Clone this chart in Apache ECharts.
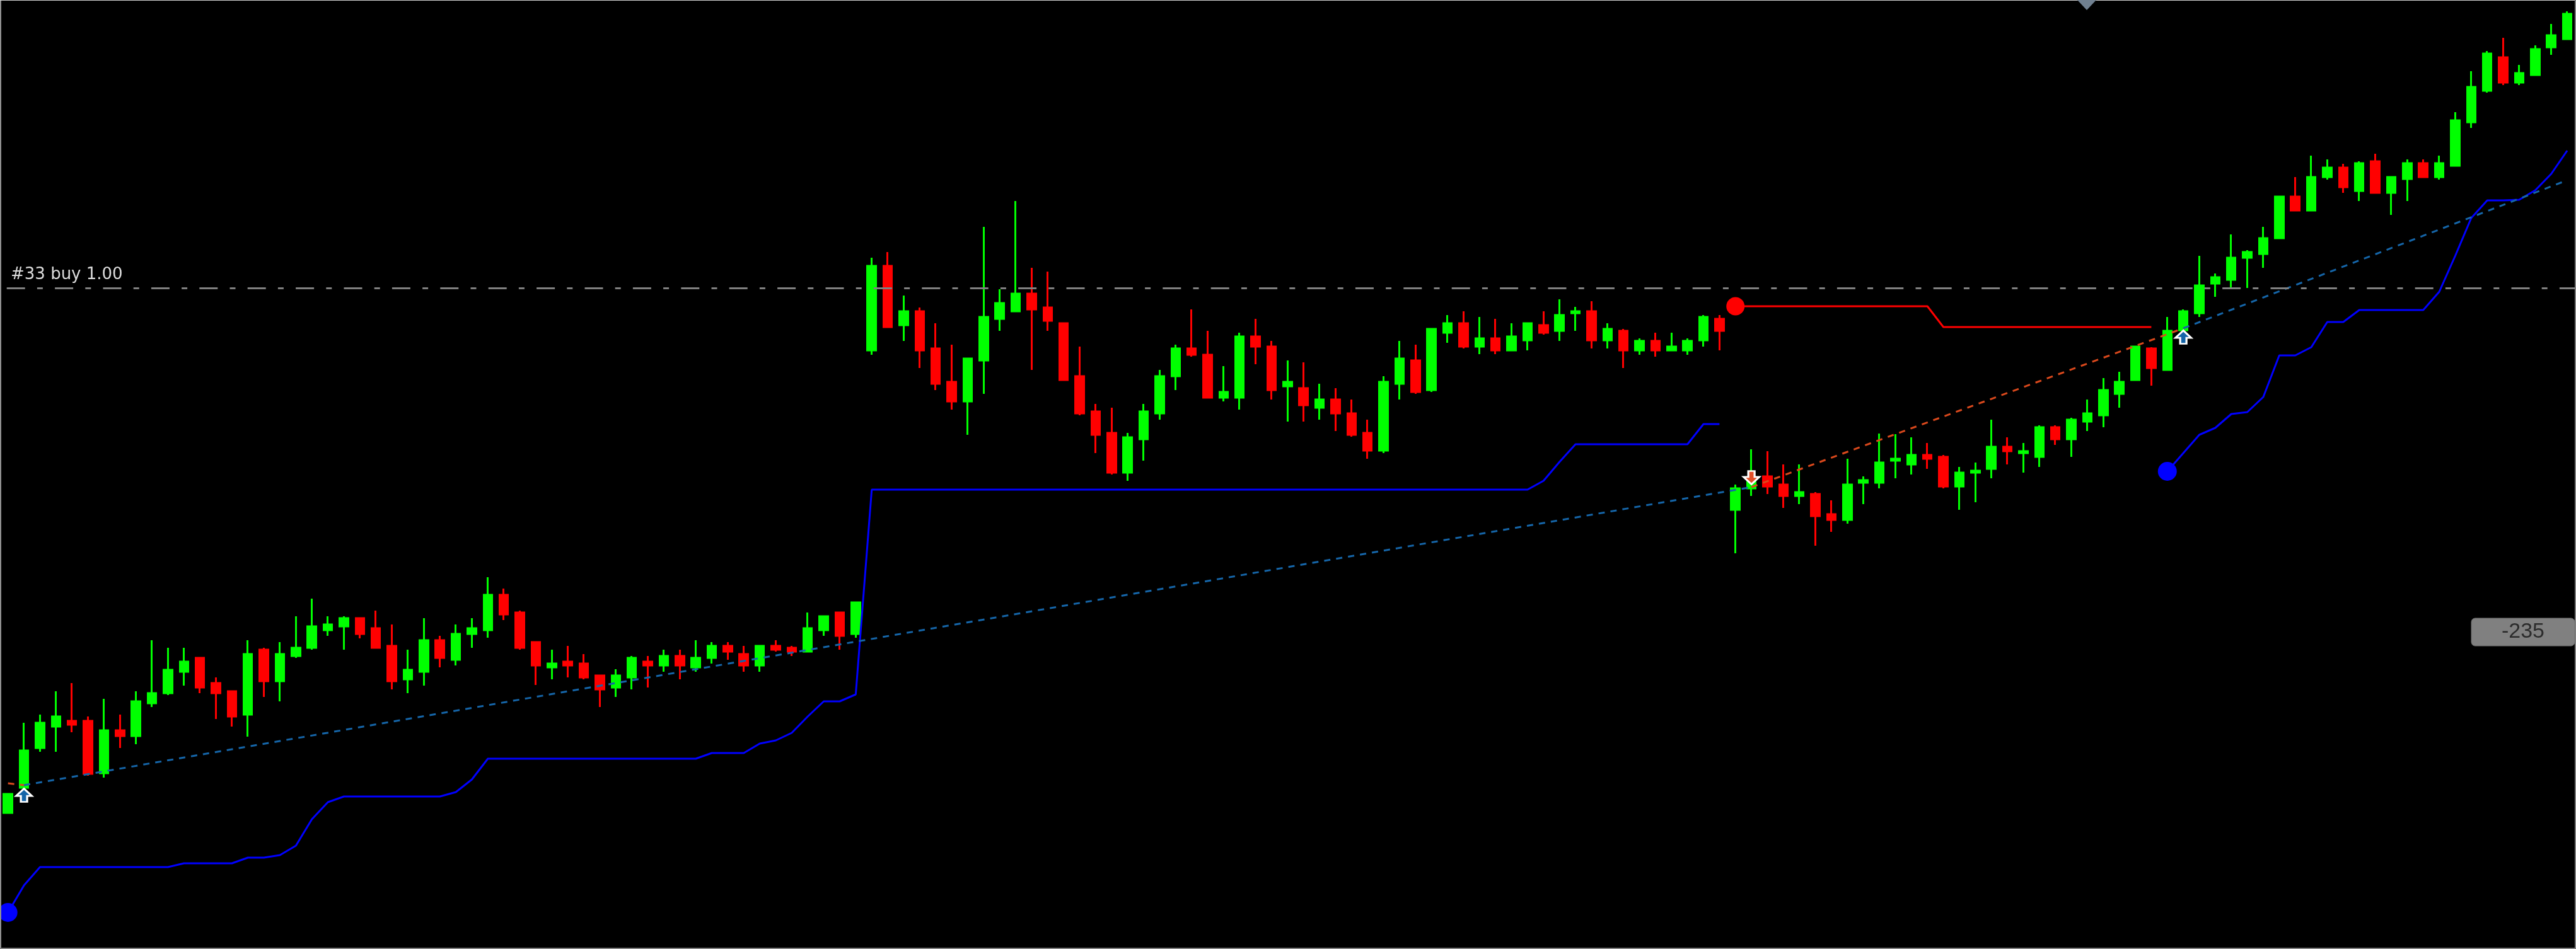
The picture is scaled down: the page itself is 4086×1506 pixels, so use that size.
<!DOCTYPE html>
<html>
<head>
<meta charset="utf-8">
<title>#33 buy 1.00</title>
<script src="https://cdn.jsdelivr.net/npm/echarts@6/dist/echarts.min.js"></script>
<style>
  html, body { margin: 0; padding: 0; background: #000; }
  #chart { width: 4086px; height: 1506px; }
</style>
</head>
<body>
<div id="chart"></div>
<script>
// candles, 161 bars, ten to a row
const opens = [
  216,256,319,353,362,362,279,347,338,390,
  406,440,462,422,409,372,475,425,465,478,
  506,512,525,509,481,428,440,490,459,500,
  506,562,534,487,447,456,453,434,415,431,
  456,450,465,447,462,481,468,450,481,478,
  472,506,534,500,950,1084,990,1012,953,900,
  869,934,1000,1012,1040,1018,993,909,853,819,
  756,809,850,909,953,943,875,875,972,956,
  893,890,859,872,850,819,791,897,934,887,
  978,993,956,969,950,966,990,981,1009,1012,
  966,981,950,965,950,950,966,1000,697,731,
  750,737,719,722,690,681,740,740,775,769,
  784,781,734,756,762,797,787,781,828,809,
  837,847,881,903,953,919,982,1009,1056,1062,
  1097,1103,1128,1194,1172,1225,1240,1203,1250,1200,
  1222,1247,1225,1243,1312,1362,1415,1375,1387,1431,
  1444
];
const closes = [
  246,315,359,369,356,278,347,338,393,406,
  443,456,415,406,369,468,425,468,478,512,
  515,525,500,478,425,443,490,462,500,509,
  562,531,478,450,453,450,431,412,434,462,
  450,465,450,462,481,472,450,481,475,472,
  509,528,497,550,1084,987,1012,950,897,869,
  937,1003,1025,1040,1015,997,903,850,816,756,
  812,853,909,953,943,875,884,972,956,887,
  900,863,872,850,816,791,900,937,884,984,
  993,956,969,950,972,993,978,1006,1012,966,
  984,950,965,950,956,965,1003,981,731,743,
  734,719,725,687,681,737,744,772,778,784,
  778,734,756,759,797,790,790,828,809,840,
  850,887,900,956,922,981,1012,1053,1066,1097,
  1106,1128,1194,1172,1225,1240,1209,1247,1200,1225,
  1247,1225,1247,1315,1368,1421,1375,1390,1428,1450,
  1484
];
const lows = [
  216,254,313,313,344,275,272,319,325,384,
  403,418,406,365,353,337,400,393,462,475,
  497,475,493,478,412,406,418,447,450,478,
  494,522,475,419,428,431,428,384,400,412,
  415,440,428,440,453,459,440,440,472,465,
  472,497,475,494,943,987,965,922,887,856,
  816,881,981,1012,919,981,903,847,787,753,
  743,775,840,887,940,875,869,856,928,872,
  837,837,840,822,813,778,787,872,881,884,
  962,953,944,944,950,950,975,965,981,953,
  953,922,943,940,950,943,956,950,628,719,
  722,700,706,640,662,675,706,731,747,753,
  762,731,697,709,747,769,756,765,800,781,
  822,828,859,902,894,919,976,1003,1035,1049,
  1049,1081,1128,1172,1172,1221,1200,1187,1200,1165,
  1187,1225,1221,1243,1303,1359,1371,1371,1387,1419,
  1444
];
const highs = [
  246,359,372,409,422,369,397,372,409,490,
  478,478,462,431,409,490,478,487,528,556,
  528,528,525,537,515,475,525,497,515,525,
  590,572,537,487,475,481,468,434,444,465,
  465,475,475,490,487,487,481,481,490,481,
  534,528,534,550,1097,1106,1037,1018,993,959,
  937,1146,1047,1187,1081,1075,993,956,865,859,
  819,865,919,959,1015,981,925,978,1000,965,
  934,931,897,890,872,840,909,965,959,984,
  1006,1012,1003,1000,993,993,1012,1031,1019,1028,
  993,984,969,978,978,969,1006,1006,737,793,
  790,769,769,725,712,778,750,818,817,812,
  803,784,765,772,840,812,803,831,831,843,
  872,906,916,956,955,1003,1015,1100,1072,1134,
  1109,1146,1194,1225,1259,1253,1246,1250,1262,1225,
  1253,1253,1259,1328,1393,1425,1446,1403,1434,1468,
  1488
];

// blue stop line, empty while the sell is open
const blueStop = [
  58,101,130,130,130,130,130,130,130,130,
  130,136,136,136,136,145,145,149,164,206,
  233,242,242,242,242,242,242,242,249,269,
  302,302,302,302,302,302,302,302,302,302,
  302,302,302,302,311,311,311,326,331,343,
  369,393,393,404,729,729,729,729,729,729,
  729,729,729,729,729,729,729,729,729,729,
  729,729,729,729,729,729,729,729,729,729,
  729,729,729,729,729,729,729,729,729,729,
  729,729,729,729,729,729,743,773,801,801,
  801,801,801,801,801,801,833,833,null,null,
  null,null,null,null,null,null,null,null,null,null,
  null,null,null,null,null,null,null,null,null,null,
  null,null,null,null,null,758,787,816,827,849,
  852,876,942,942,955,995,995,1014,1014,1014,
  1014,1014,1043,1100,1160,1188,1188,1189,1204,1230,
  1267
];
// [bar, price] pairs
const redStop = [[108,1020],[120,1020],[121,987],[134,987]];
const blueDots = [[0,58],[135,758]];
const redDots = [[108,1020]];

// order history lines
const buyLineA = [[1,260],[109,733]];
const sellLine = [[109,733],[136,985]];
const buyLineB = [[136,985],[160,1220]];
const prevSellLine = [[0,263],[1,260]];
const buyArrows = [[1,244],[136,971]];
const sellArrows = [[109,748]];

const orderLevel = 1049;
const orderLabel = '#33 buy 1.00';
const profitLabel = '-235';

const categories = opens.map((v, i) => i);
const candles = opens.map((v, i) => [v, closes[i], lows[i], highs[i]]);

const barStep = 25.45; // one bar in px, first bar centre sits on the left edge
const chart = echarts.init(document.getElementById('chart'));

const tradeLine = (data, color) => ({
  type: 'line',
  data: data,
  showSymbol: false,
  silent: true,
  lineStyle: { color: color, width: 3, type: [10, 9.2] }
});

const stopLine = (data, color) => ({
  type: 'line',
  data: data,
  showSymbol: false,
  silent: true,
  lineStyle: { color: color, width: 3 }
});

const arrow = (data, path, fill) => ({
  type: 'scatter',
  data: data,
  symbol: path,
  symbolSize: [25, 21],
  silent: true,
  z: 5,
  itemStyle: { color: fill, borderColor: '#ffffff', borderWidth: 3, opacity: 1 }
});

chart.setOption({
  animation: false,
  backgroundColor: '#000000',
  grid: { left: -barStep / 2, right: 4086 + barStep / 2 - 161 * barStep, top: 0, bottom: 0 },
  xAxis: { type: 'category', data: categories, show: false },
  yAxis: { type: 'value', min: 0, max: 1506, show: false },
  series: [
    {
      type: 'candlestick',
      data: candles,
      barWidth: 14,
      silent: true,
      itemStyle: {
        color: '#00ff00',
        color0: '#ff0000',
        borderColor: '#00ff00',
        borderColor0: '#ff0000',
        borderWidth: 3
      },
      markLine: {
        silent: true,
        symbol: 'none',
        animation: false,
        label: { show: false },
        lineStyle: { color: '#808080', width: 3, type: [29, 19.2, 9, 19.2], dashOffset: 65.7 },
        data: [{ yAxis: orderLevel }]
      }
    },
    stopLine(blueStop, '#0000ff'),
    stopLine(redStop, '#ff0000'),
    tradeLine(buyLineA, '#1565a8'),
    tradeLine(sellLine, '#d9481c'),
    tradeLine(buyLineB, '#1565a8'),
    tradeLine(prevSellLine, '#d9481c'),
    { type: 'scatter', data: blueDots, symbolSize: 30, silent: true, z: 4, itemStyle: { color: '#0000ff', opacity: 1 } },
    { type: 'scatter', data: redDots, symbolSize: 29, silent: true, z: 4, itemStyle: { color: '#ff0000', opacity: 1 } },
    arrow(buyArrows, 'path://M50 0L100 55L70 55L70 100L30 100L30 55L0 55Z', '#1565a8'),
    arrow(sellArrows, 'path://M30 0L70 0L70 45L100 45L50 100L0 45L30 45Z', '#e2502a')
  ],
  graphic: [
    // frame of the terminal window
    { type: 'rect', shape: { x: 0, y: 0, width: 2, height: 1506 }, style: { fill: '#909090' }, z: 20 },
    { type: 'rect', shape: { x: 0, y: 0, width: 4086, height: 1 }, style: { fill: '#d0d0d0' }, z: 20 },
    { type: 'rect', shape: { x: 4084, y: 0, width: 2, height: 1506 }, style: { fill: '#808080' }, z: 20 },
    { type: 'rect', shape: { x: 0, y: 1504, width: 4086, height: 2 }, style: { fill: '#808080' }, z: 20 },
    // scroll marker on top
    { type: 'polygon', shape: { points: [[3295, 0], [3325, 0], [3310, 16]] }, style: { fill: '#708090' }, z: 21 },
    // order label
    {
      type: 'text', z: 21,
      style: { text: orderLabel, x: 17, y: 423, fill: '#dcdcdc', font: '26px "DejaVu Sans"' }
    },
    // profit box
    {
      type: 'rect', z: 21,
      shape: { x: 3920, y: 981, width: 164, height: 44, r: 6 },
      style: { fill: '#808080', stroke: '#6e6e6e', lineWidth: 1 }
    },
    {
      type: 'text', z: 22,
      style: {
        text: profitLabel, x: 4002, y: 1003, fill: '#2c2c2c',
        font: '34px "Liberation Sans"', align: 'center', verticalAlign: 'middle'
      }
    }
  ]
});
</script>
</body>
</html>
